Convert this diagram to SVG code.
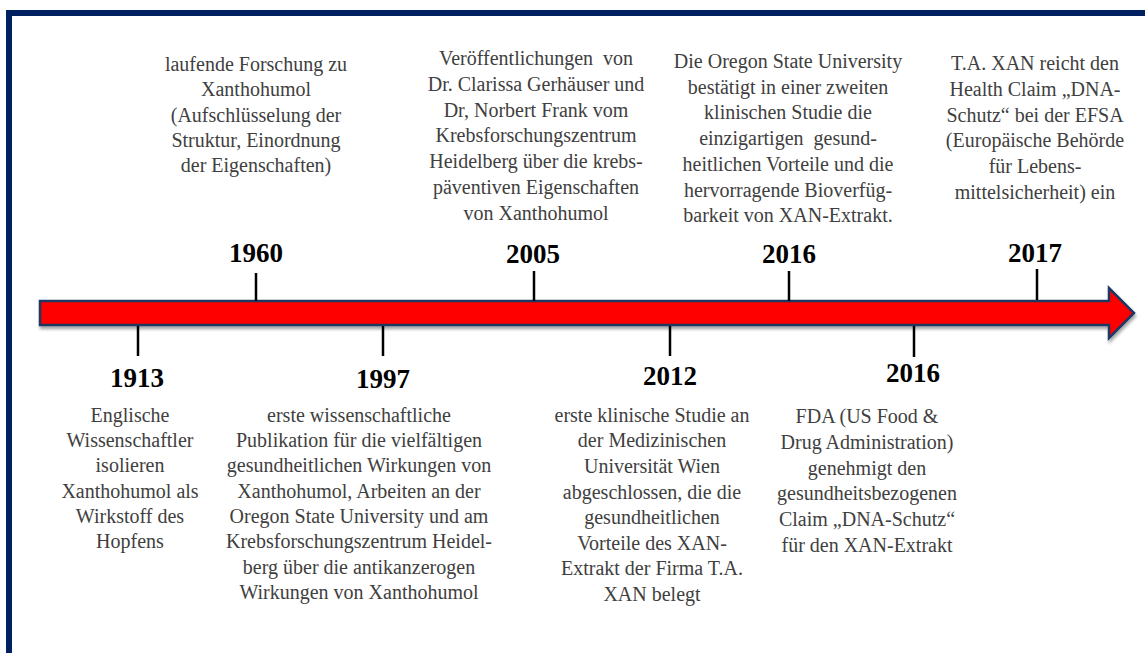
<svg xmlns="http://www.w3.org/2000/svg" width="1145" height="653" viewBox="0 0 1145 653">
<style>
.t{font-family:"Liberation Serif","Times New Roman",serif;font-size:20px;fill:#404040;text-anchor:middle}
.y{font-family:"Liberation Serif","Times New Roman",serif;font-size:27px;font-weight:bold;fill:#000;text-anchor:middle}
.tick{stroke:#000;stroke-width:2.5}
</style>
<defs>
<filter id="sh" x="-5%" y="-30%" width="110%" height="170%">
<feGaussianBlur in="SourceAlpha" stdDeviation="1.5"/>
<feOffset dx="1" dy="2.5" result="o"/>
<feComponentTransfer><feFuncA type="linear" slope="0.35"/></feComponentTransfer>
<feMerge><feMergeNode/><feMergeNode in="SourceGraphic"/></feMerge>
</filter>
</defs>
<rect width="1145" height="653" fill="#fff"/>
<rect x="9" y="13" width="1142" height="660" fill="none" stroke="#002060" stroke-width="6"/>
<g id="connectors">
<polygon points="40,301 1109,301 1109,288 1134,313 1109,338 1109,325 40,325" fill="#ff0000" stroke="#1f3864" stroke-width="2.5" stroke-linejoin="miter" filter="url(#sh)"/>
<line class="tick" x1="256" y1="273" x2="256" y2="301"/>
<line class="tick" x1="534" y1="271" x2="534" y2="301"/>
<line class="tick" x1="789" y1="271" x2="789" y2="301"/>
<line class="tick" x1="1037" y1="269" x2="1037" y2="300"/>
<line class="tick" x1="138" y1="326" x2="138" y2="356"/>
<line class="tick" x1="383" y1="326" x2="383" y2="356"/>
<line class="tick" x1="670" y1="326" x2="670" y2="356"/>
<line class="tick" x1="914" y1="326" x2="914" y2="357"/>
</g>
<g id="n1960">
<text class="y" x="256" y="262">1960</text>
<text class="t" x="256" y="71">laufende Forschung zu</text>
<text class="t" x="256" y="96.3">Xanthohumol</text>
<text class="t" x="256" y="121.6">(Aufschlüsselung der</text>
<text class="t" x="256" y="146.9">Struktur, Einordnung</text>
<text class="t" x="256" y="172.2">der Eigenschaften)</text>
</g>
<g id="n2005">
<text class="y" x="533" y="263">2005</text>
<text class="t" x="536" y="65" xml:space="preserve">Veröffentlichungen  von</text>
<text class="t" x="536" y="90.8">Dr. Clarissa Gerhäuser und</text>
<text class="t" x="536" y="116.6">Dr, Norbert Frank vom</text>
<text class="t" x="536" y="142.4">Krebsforschungszentrum</text>
<text class="t" x="536" y="168.2">Heidelberg über die krebs-</text>
<text class="t" x="536" y="194">päventiven Eigenschaften</text>
<text class="t" x="536" y="219.8">von Xanthohumol</text>
</g>
<g id="n2016a">
<text class="y" x="789" y="263">2016</text>
<text class="t" x="788" y="68">Die Oregon State University</text>
<text class="t" x="788" y="93.7">bestätigt in einer zweiten</text>
<text class="t" x="788" y="119.4">klinischen Studie die</text>
<text class="t" x="788" y="145.1" xml:space="preserve">einzigartigen  gesund-</text>
<text class="t" x="788" y="170.8">heitlichen Vorteile und die</text>
<text class="t" x="788" y="196.5">hervorragende Bioverfüg-</text>
<text class="t" x="788" y="222.2">barkeit von XAN-Extrakt.</text>
</g>
<g id="n2017">
<text class="y" x="1035" y="262">2017</text>
<text class="t" x="1035" y="70">T.A. XAN reicht den</text>
<text class="t" x="1035" y="95.8">Health Claim „DNA-</text>
<text class="t" x="1035" y="121.6">Schutz“ bei der EFSA</text>
<text class="t" x="1035" y="147.4">(Europäische Behörde</text>
<text class="t" x="1035" y="173.2">für Lebens-</text>
<text class="t" x="1035" y="199">mittelsicherheit) ein</text>
</g>
<g id="n1913">
<text class="y" x="137" y="387">1913</text>
<text class="t" x="130" y="421.7">Englische</text>
<text class="t" x="130" y="447">Wissenschaftler</text>
<text class="t" x="130" y="472.3">isolieren</text>
<text class="t" x="130" y="497.6">Xanthohumol als</text>
<text class="t" x="130" y="522.9">Wirkstoff des</text>
<text class="t" x="130" y="548.2">Hopfens</text>
</g>
<g id="n1997">
<text class="y" x="383" y="388">1997</text>
<text class="t" x="359" y="421.7">erste wissenschaftliche</text>
<text class="t" x="359" y="447">Publikation für die vielfältigen</text>
<text class="t" x="359" y="472.3">gesundheitlichen Wirkungen von</text>
<text class="t" x="359" y="497.6">Xanthohumol, Arbeiten an der</text>
<text class="t" x="359" y="522.9">Oregon State University und am</text>
<text class="t" x="359" y="548.2">Krebsforschungszentrum Heidel-</text>
<text class="t" x="359" y="573.5">berg über die antikanzerogen</text>
<text class="t" x="359" y="598.8">Wirkungen von Xanthohumol</text>
</g>
<g id="n2012">
<text class="y" x="670" y="385">2012</text>
<text class="t" x="652" y="421.7">erste klinische Studie an</text>
<text class="t" x="652" y="447.3">der Medizinischen</text>
<text class="t" x="652" y="472.9">Universität Wien</text>
<text class="t" x="652" y="498.5">abgeschlossen, die die</text>
<text class="t" x="652" y="524.1">gesundheitlichen</text>
<text class="t" x="652" y="549.7">Vorteile des XAN-</text>
<text class="t" x="652" y="575.3">Extrakt der Firma T.A.</text>
<text class="t" x="652" y="600.9">XAN belegt</text>
</g>
<g id="n2016b">
<text class="y" x="913" y="382">2016</text>
<text class="t" x="867" y="423.3">FDA (US Food &amp;</text>
<text class="t" x="867" y="449">Drug Administration)</text>
<text class="t" x="867" y="474.7">genehmigt den</text>
<text class="t" x="867" y="500.4">gesundheitsbezogenen</text>
<text class="t" x="867" y="526.1">Claim „DNA-Schutz“</text>
<text class="t" x="867" y="551.8">für den XAN-Extrakt</text>
</g>
</svg>
